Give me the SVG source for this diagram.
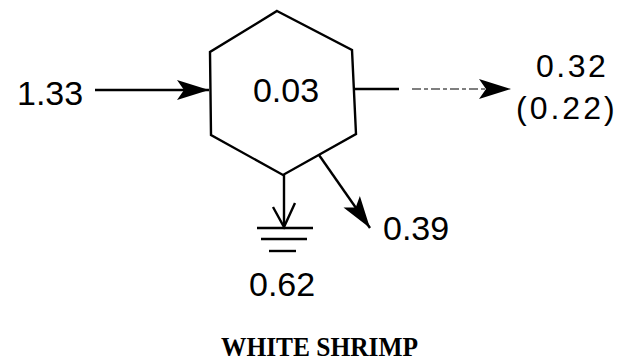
<svg xmlns="http://www.w3.org/2000/svg" width="640" height="362" viewBox="0 0 640 362">
<style>
.num{font-family:"Liberation Sans",Arial,sans-serif;font-size:34px;fill:#000}
.ln{stroke:#000;stroke-width:2.4;fill:none}
.title{font-family:"Liberation Serif",serif;font-weight:bold;font-size:27px;fill:#000}
</style>
<defs>
<marker id="ah" markerWidth="32" markerHeight="22" refX="32" refY="11" orient="auto" markerUnits="userSpaceOnUse">
<path d="M0,1 L32,11 L0,21 L7,11 Z" fill="#000"/>
</marker>
</defs>
<rect width="640" height="362" fill="#fff"/>
<g id="node-shrimp">
<polygon class="ln" points="277,11 352,50 356,134 283,175 211,135 210,52"/>
<text class="num" x="286" y="102" text-anchor="middle">0.03</text>
</g>
<g id="connectors">
<line class="ln" x1="95" y1="90" x2="209" y2="90" marker-end="url(#ah)"/>
<line class="ln" x1="354" y1="89" x2="399" y2="89"/>
<line x1="412" y1="89" x2="486" y2="89" stroke="#555" stroke-width="1.6" stroke-dasharray="9,3,4,3"/>
<line x1="478" y1="89" x2="511" y2="89" stroke="none" marker-end="url(#ah)"/>
<line class="ln" x1="319" y1="155" x2="370" y2="228" marker-end="url(#ah)"/>
<line class="ln" x1="284" y1="175" x2="284" y2="226"/>
<polyline class="ln" points="273,207 284,227 295,203"/>
<line class="ln" x1="257" y1="228" x2="313" y2="228"/>
<line class="ln" x1="261" y1="239" x2="307" y2="239"/>
<line class="ln" x1="269" y1="251" x2="296" y2="251"/>
</g>
<g id="labels">
<text class="num" x="536" y="77" style="font-size:32px;letter-spacing:2.5px">0.32</text>
<text class="num" x="516" y="119" style="font-size:32px;letter-spacing:3px">(0.22)</text>
<text class="num" x="17" y="105">1.33</text>
<text class="num" x="383" y="240">0.39</text>
<text class="num" x="249" y="296">0.62</text>
<text class="title" x="221" y="356" textLength="197" lengthAdjust="spacingAndGlyphs">WHITE SHRIMP</text>
</g>
</svg>
